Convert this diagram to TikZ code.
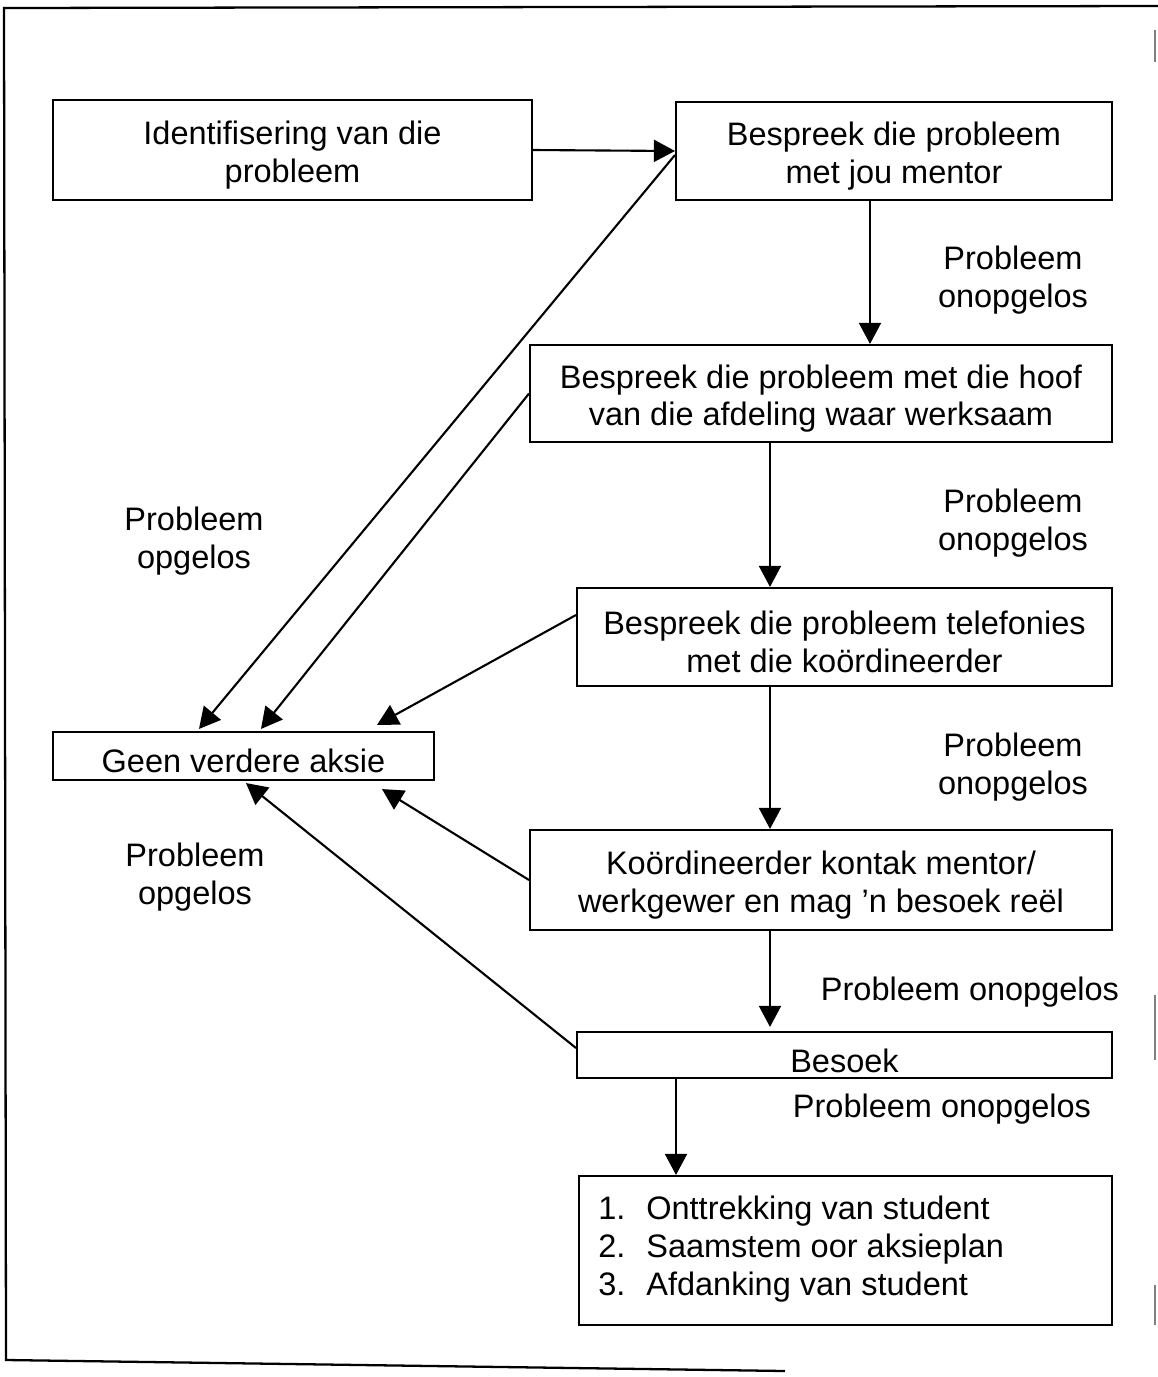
\documentclass[tikz,border=0pt]{standalone}
\usepackage{fontspec}
\setmainfont{Liberation Sans}
\usetikzlibrary{arrows.meta,calc}
\begin{document}
\begin{tikzpicture}[x=0.02cm,y=-0.02cm,
  txt/.style={font=\fontsize{18.5}{21.5}\selectfont},
  box/.style={draw,line width=1.2pt,inner sep=0pt},
  lbl/.style={align=center,inner sep=0pt,txt},
  flow/.style={line width=1.2pt,-{Triangle[length=12pt,width=12.5pt]}},
  frameline/.style={line width=1.3pt}]
\useasboundingbox (0,0) rectangle (1158,1377);

% outer frame
\draw[frameline] (1158,6) -- (4,8) -- (6,1360) -- (785,1371);
\draw[gray,line width=0.6pt] (1155,30) -- (1155,62);
\draw[gray,line width=0.6pt] (1155,995) -- (1155,1060);
\draw[gray,line width=0.6pt] (1155,1285) -- (1155,1325);

% process boxes
\node[box,minimum width=9.58cm,minimum height=2.0cm] (b1) at (292.5,150) {};
\node[box,minimum width=8.72cm,minimum height=1.96cm] (b2) at (894,151) {};
\node[box,minimum width=11.64cm,minimum height=1.94cm] (b3) at (821,393.5) {};
\node[box,minimum width=10.7cm,minimum height=1.96cm] (b4) at (844.5,637) {};
\node[box,minimum width=7.62cm,minimum height=0.96cm] (b5) at (243.5,756) {};
\node[box,minimum width=11.64cm,minimum height=2.0cm] (b6) at (821,880) {};
\node[box,minimum width=10.7cm,minimum height=0.92cm] (b7) at (844.5,1055) {};
\node[box,minimum width=10.66cm,minimum height=2.98cm] (b8) at (845.5,1250.5) {};

% box texts
\node[lbl] (t1) at ($(b1)+(0,5)$) {Identifisering van die\\probleem};
\node[lbl] (t2) at ($(b2)+(0,5)$) {Bespreek die probleem\\met jou mentor};
\node[lbl] (t3) at ($(b3)+(0,5)$) {Bespreek die probleem met die hoof\\van die afdeling waar werksaam};
\node[lbl] (t4) at ($(b4)+(0,5)$) {Bespreek die probleem telefonies\\met die ko\"ordineerder};
\node[lbl] (t5) at ($(b5)+(0,5)$) {Geen verdere aksie};
\node[lbl] (t6) at ($(b6)+(0,5)$) {Ko\"ordineerder kontak mentor/\\werkgewer en mag 'n besoek re\"el};
\node[lbl] (t7) at ($(b7)+(0,6)$) {Besoek};
\node[lbl,anchor=west] (t8) at (598,1250) {%
  \begin{tabular}{@{}p{0.96cm}@{}l@{}}
  1. & Onttrekking van student\\
  2. & Saamstem oor aksieplan\\
  3. & Afdanking van student
  \end{tabular}};

% helper x positions for vertical connectors
\coordinate (x870) at (870,0);
\coordinate (x770) at (770,0);
\coordinate (x676) at (676,0);

% main flow
\draw[flow] (b1.east) -- (b2.west);
\draw[flow] (b2.south -| x870) -- (b3.north -| x870);
\draw[flow] (b3.south -| x770) -- (b4.north -| x770);
\draw[flow] (b4.south -| x770) -- (b6.north -| x770);
\draw[flow] (b6.south -| x770) -- ($(b7.north -| x770)+(0,-4)$);
\draw[flow] (b7.south -| x676) -- (b8.north -| x676);

% resolved problems lead to no further action
\draw[flow] ($(b2.west)+(0,4)$) -- ($(b5.north west)+(147,-2)$);
\draw[flow] (b3.west) -- ($(b5.north west)+(209,-2)$);
\draw[flow] ($(b4.west)+(0,-22)$) -- ($(b5.north west)+(325,-6)$);
\draw[flow] (b6.west) -- ($(b5.south west)+(330,8)$);
\draw[flow] ($(b7.west)+(0,-7)$) -- ($(b5.south west)+(194,2)$);

% connector labels
\node[lbl] (l1) at (1013,280) {Probleem\\onopgelos};
\node[lbl] (l2) at (1013,523) {Probleem\\onopgelos};
\node[lbl] (l3) at (1013,767) {Probleem\\onopgelos};
\node[lbl] (l4) at (970,992) {Probleem onopgelos};
\node[lbl] (l5) at (942,1109) {Probleem onopgelos};
\node[lbl] (o1) at (194,541) {Probleem\\opgelos};
\node[lbl] (o2) at (195,877) {Probleem\\opgelos};
\end{tikzpicture}
\end{document}
